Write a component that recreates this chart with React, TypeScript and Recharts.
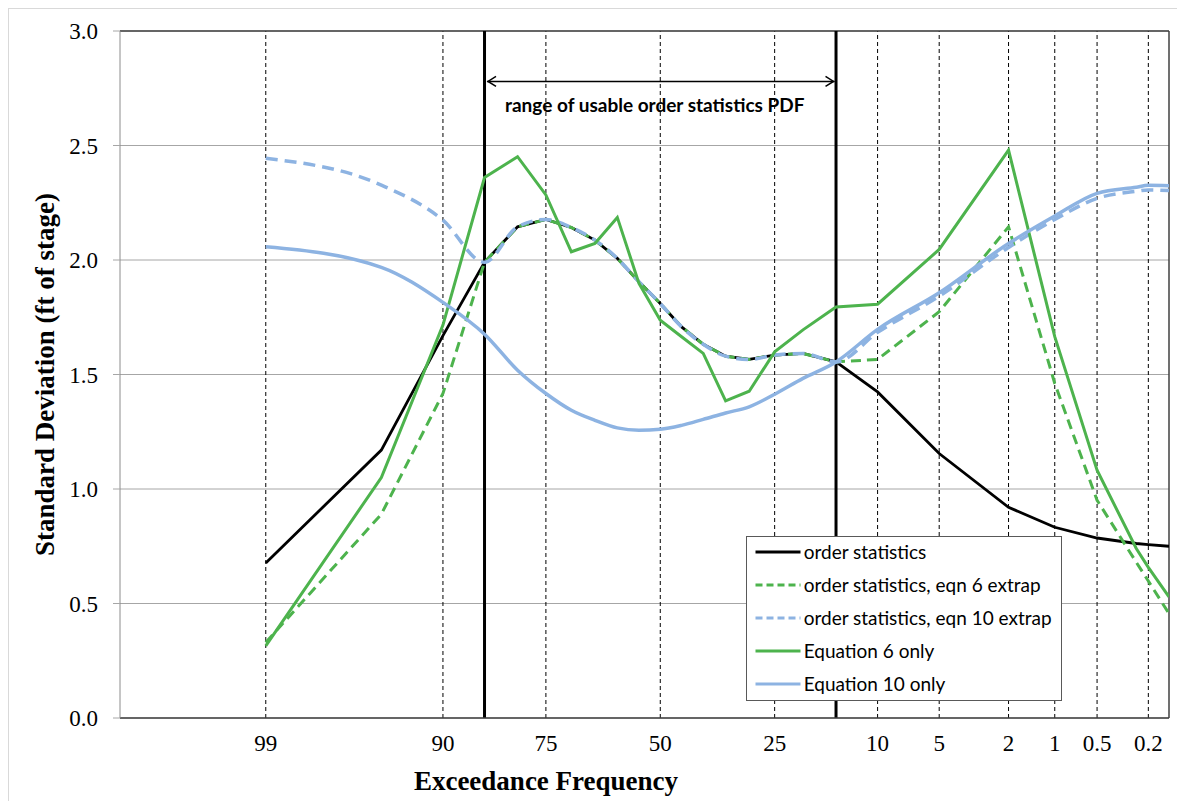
import React from 'react';
import { LineChart, Line, XAxis, YAxis, CartesianGrid, ReferenceLine, Legend } from 'recharts';

// Exceedance frequency (percent) of each computed point
const exceedance = [99, 95, 90, 85, 80, 75, 70, 65, 60, 55, 50, 45, 40, 35, 30, 25, 20, 15, 10, 5, 2, 1, 0.5, 0.25, 0.2, 0.135];

// Standard deviation (ft of stage)
const orderStats = [0.677, 1.17, 1.67, 1.99, 2.145, 2.177, 2.142, 2.087, 2.007, 1.905, 1.81, 1.708, 1.632, 1.58, 1.566, 1.585, 1.592, 1.555, 1.424, 1.155, 0.92, 0.833, 0.786, 0.762, 0.757, 0.75];
const orderStatsEqn6 = [0.33, 0.89, 1.417, 1.99, 2.145, 2.177, 2.142, 2.087, 2.007, 1.905, 1.81, 1.708, 1.632, 1.58, 1.566, 1.585, 1.592, 1.555, 1.566, 1.774, 2.145, 1.461, 0.951, 0.68, 0.598, 0.456];
const orderStatsEqn10 = [2.444, 2.327, 2.174, 1.99, 2.145, 2.177, 2.142, 2.087, 2.007, 1.905, 1.81, 1.708, 1.632, 1.58, 1.566, 1.585, 1.592, 1.555, 1.684, 1.842, 2.055, 2.177, 2.269, 2.3, 2.306, 2.303];
const equation6 = [0.315, 1.05, 1.716, 2.36, 2.451, 2.284, 2.036, 2.072, 2.186, 1.898, 1.737, 1.665, 1.592, 1.385, 1.427, 1.599, 1.695, 1.795, 1.807, 2.046, 2.48, 1.665, 1.082, 0.74, 0.658, 0.529];
const equation10 = [2.058, 1.968, 1.815, 1.676, 1.519, 1.417, 1.344, 1.3, 1.267, 1.257, 1.261, 1.278, 1.304, 1.332, 1.359, 1.414, 1.483, 1.555, 1.697, 1.857, 2.072, 2.192, 2.291, 2.318, 2.326, 2.324];

const xTickValues = [99, 90, 75, 50, 25, 10, 5, 2, 1, 0.5, 0.2];
const xTickLabels = ['99', '90', '75', '50', '25', '10', '5', '2', '1', '0.5', '0.2'];
const yTicks = [0, 0.5, 1.0, 1.5, 2.0, 2.5, 3.0];
const usableRange = [85, 15];

const GREEN = '#4db34d';
const BLUE = '#8db3e2';

const seriesDefs = [
  { key: 'os', name: 'order statistics', color: '#000000', width: 2.8, dash: undefined, type: 'linear', legendDash: undefined },
  { key: 'os6', name: 'order statistics, eqn 6 extrap', color: GREEN, width: 3, dash: '10 6', type: 'linear', legendDash: '7 4' },
  { key: 'os10', name: 'order statistics, eqn 10 extrap', color: BLUE, width: 3.5, dash: '12 7', type: 'monotone', legendDash: '7 4' },
  { key: 'eq6', name: 'Equation 6 only', color: GREEN, width: 3, dash: undefined, type: 'linear', legendDash: undefined },
  { key: 'eq10', name: 'Equation 10 only', color: BLUE, width: 3.5, dash: undefined, type: 'monotone', legendDash: undefined },
];

function invNorm(p: number): number {
  const a = [-3.969683028665376e1, 2.209460984245205e2, -2.759285104469687e2, 1.38357751867269e2, -3.066479806614716e1, 2.506628277459239];
  const b = [-5.447609879822406e1, 1.615858368580409e2, -1.556989798598866e2, 6.680131188771972e1, -1.328068155288572e1];
  const c = [-7.784894002430293e-3, -3.223964580411365e-1, -2.400758277161838, -2.549732539343734, 4.374664141464968, 2.938163982698783];
  const d = [7.784695709041462e-3, 3.224671290700398e-1, 2.445134137142996, 3.754408661907416];
  const pl = 0.02425;
  const ph = 1 - pl;
  let q: number, r: number;
  if (p < pl) {
    q = Math.sqrt(-2 * Math.log(p));
    return (((((c[0] * q + c[1]) * q + c[2]) * q + c[3]) * q + c[4]) * q + c[5]) / ((((d[0] * q + d[1]) * q + d[2]) * q + d[3]) * q + 1);
  }
  if (p <= ph) {
    q = p - 0.5;
    r = q * q;
    return ((((((a[0] * r + a[1]) * r + a[2]) * r + a[3]) * r + a[4]) * r + a[5]) * q) / (((((b[0] * r + b[1]) * r + b[2]) * r + b[3]) * r + b[4]) * r + 1);
  }
  q = Math.sqrt(-2 * Math.log(1 - p));
  return -(((((c[0] * q + c[1]) * q + c[2]) * q + c[3]) * q + c[4]) * q + c[5]) / ((((d[0] * q + d[1]) * q + d[2]) * q + d[3]) * q + 1);
}

const zOf = (pct: number) => invNorm(1 - pct / 100);

const data = exceedance.map((p, i) => ({
  z: zOf(p),
  os: orderStats[i],
  os6: orderStatsEqn6[i],
  os10: orderStatsEqn10[i],
  eq6: equation6[i],
  eq10: equation10[i],
}));

const xTicks = xTickValues.map(zOf);
const labelFor = (z: number) => {
  let best = 0;
  xTicks.forEach((t, i) => {
    if (Math.abs(t - z) < Math.abs(xTicks[best] - z)) best = i;
  });
  return xTickLabels[best];
};

const SERIF = '"Liberation Serif", "Times New Roman", serif';
const SANS = 'Lato, "Liberation Sans", sans-serif';

const ArrowShape = (props: any) => {
  const { x1, y1, x2 } = props;
  const l = x1 + 2.5;
  const r = x2 - 1.5;
  const y = y1;
  return (
    <g>
      <line x1={l} y1={y} x2={r} y2={y} stroke="#000" strokeWidth={1.5} />
      <polyline points={`${l + 9},${y - 5} ${l + 1},${y} ${l + 9},${y + 5}`} fill="none" stroke="#000" strokeWidth={1.5} />
      <polyline points={`${r - 9},${y - 5} ${r - 1},${y} ${r - 9},${y + 5}`} fill="none" stroke="#000" strokeWidth={1.5} />
      <text x={(l + r) / 2 - 6} y={y + 31} textAnchor="middle" fontFamily={SANS} fontWeight="bold" fontSize={19} fill="#000">
        range of usable order statistics PDF
      </text>
    </g>
  );
};

const LegendBox = () => (
  <div
    style={{
      width: 316,
      height: 165,
      boxSizing: 'border-box',
      border: '1px solid #595959',
      background: '#fff',
      position: 'relative',
      fontFamily: SANS,
      fontSize: 19,
      color: '#000',
    }}
  >
    {seriesDefs.map((s, i) => (
      <div
        key={s.key}
        style={{ position: 'absolute', left: 0, top: 15 + i * 33 - 12, height: 24, display: 'flex', alignItems: 'center', whiteSpace: 'nowrap' }}
      >
        <svg width={57} height={24} style={{ display: 'block' }}>
          <line x1={8.5} x2={53.5} y1={12} y2={12} stroke={s.color} strokeWidth={3} strokeDasharray={s.legendDash} />
        </svg>
        <span style={{ lineHeight: '24px' }}>{s.name}</span>
      </div>
    ))}
  </div>
);

const YTitle = (props: any) => {
  const vb = props.viewBox || { x: 0, y: 0, width: 0, height: 0 };
  const x = vb.x + 45;
  const y = vb.y + vb.height / 2;
  return (
    <text x={x} y={y} transform={`rotate(-90, ${x}, ${y})`} textAnchor="middle" fontFamily={SERIF} fontWeight="bold" fontSize={27} fill="#000">
      Standard Deviation (ft of stage)
    </text>
  );
};

const XTitle = (props: any) => {
  const vb = props.viewBox || { x: 0, y: 0, width: 0, height: 0 };
  return (
    <text x={vb.x + 426} y={vb.y + 71.5} textAnchor="middle" fontFamily={SERIF} fontWeight="bold" fontSize={27} fill="#000">
      Exceedance Frequency
    </text>
  );
};

export default function App() {
  return (
    <div style={{ width: 1175, height: 792, border: '1px solid #d9d9d9', background: '#fff' }}>
      <LineChart width={1175} height={790} data={data} margin={{ top: 22, right: 15, left: 0, bottom: 0 }}>
        <CartesianGrid vertical={false} stroke="#a6a6a6" strokeWidth={1} />
        <XAxis
          type="number"
          dataKey="z"
          domain={[-3.186, 3.0]}
          allowDataOverflow
          ticks={xTicks}
          interval={0}
          tickFormatter={labelFor}
          tickLine={false}
          tickSize={0}
          tickMargin={17}
          height={81}
          axisLine={{ stroke: '#404040', strokeWidth: 1.5 }}
          tick={{ fontFamily: SERIF, fontSize: 23, fill: '#000' }}
          label={XTitle}
        />
        <YAxis
          type="number"
          domain={[0, 3]}
          ticks={yTicks}
          interval={0}
          width={111}
          tickSize={7}
          tickMargin={15}
          tickLine={{ stroke: '#a6a6a6' }}
          axisLine={{ stroke: '#8c8c8c' }}
          tickFormatter={(v: number) => v.toFixed(1)}
          tick={{ fontFamily: SERIF, fontSize: 23, fill: '#000' }}
          label={YTitle}
        />
        {xTicks.map((t, i) => (
          <ReferenceLine key={'v' + i} x={t} stroke="#000" strokeWidth={1} strokeDasharray="4 3" />
        ))}
        <ReferenceLine y={3} stroke="#404040" strokeWidth={1.5} />
        <ReferenceLine x={3.0} stroke="#404040" strokeWidth={1.5} />
        {usableRange.map((p) => (
          <ReferenceLine key={'u' + p} x={zOf(p)} stroke="#000" strokeWidth={3} />
        ))}
        <ReferenceLine
          segment={[
            { x: zOf(usableRange[0]), y: 2.78 },
            { x: zOf(usableRange[1]), y: 2.78 },
          ]}
          shape={ArrowShape}
        />
        {seriesDefs.map((s) => (
          <Line
            key={s.key}
            dataKey={s.key}
            name={s.name}
            type={s.type as any}
            stroke={s.color}
            strokeWidth={s.width}
            strokeDasharray={s.dash}
            dot={false}
            activeDot={false}
            isAnimationActive={false}
          />
        ))}
        <Legend
          layout="horizontal"
          verticalAlign="middle"
          align="center"
          wrapperStyle={{ left: 736.7, top: 526.7, width: 316, height: 165 }}
          content={LegendBox}
        />
      </LineChart>
    </div>
  );
}
